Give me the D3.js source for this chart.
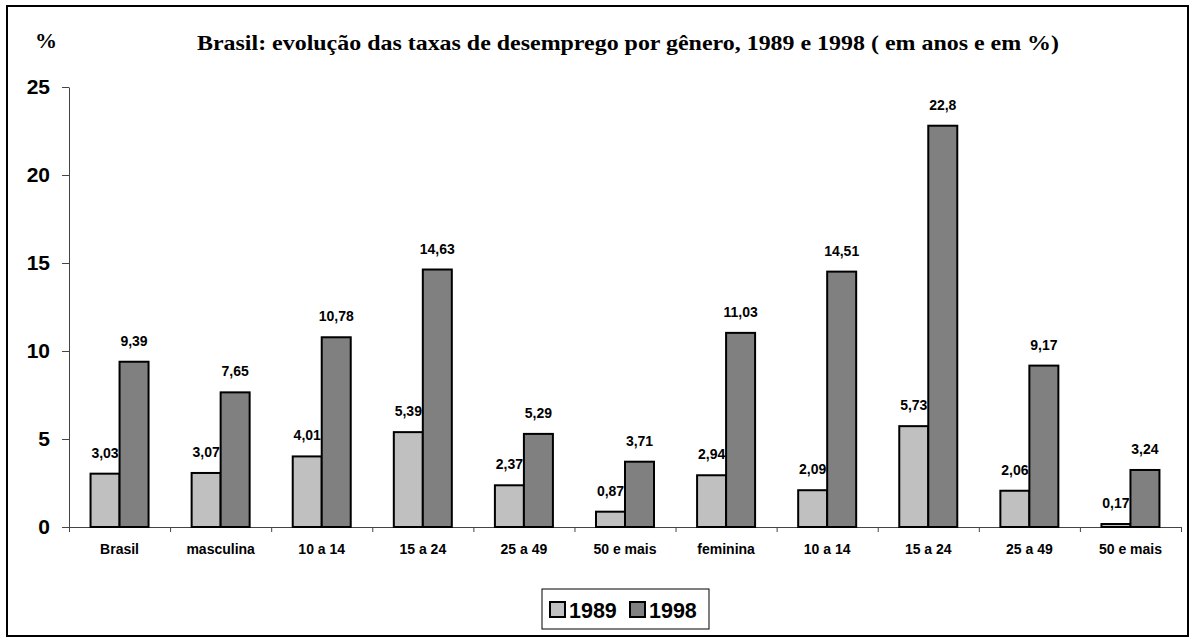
<!DOCTYPE html>
<html>
<head>
<meta charset="utf-8">
<script src="https://cdn.jsdelivr.net/npm/d3@7"></script>
<style>
  body { margin: 0; background: #fff; }
  svg text { font-family: "Liberation Sans", Arial, sans-serif; font-weight: bold; fill: #000; }
  .serif { font-family: "Liberation Serif", "Times New Roman", serif; }
</style>
</head>
<body>
<div id="chart"></div>
<script>
// categorias do eixo x (repetem-se, por isso usamos o índice)
var categories = ["Brasil", "masculina", "10 a 14", "15 a 24", "25 a 49", "50 e mais",
                  "feminina", "10 a 14", "15 a 24", "25 a 49", "50 e mais"];
var values1989 = [3.03, 3.07, 4.01, 5.39, 2.37, 0.87, 2.94, 2.09, 5.73, 2.06, 0.17];
var values1998 = [9.39, 7.65, 10.78, 14.63, 5.29, 3.71, 11.03, 14.51, 22.8, 9.17, 3.24];
var series = ["1989", "1998"];
var seriesColors = ["#c0c0c0", "#808080"];
var yTicks = [0, 5, 10, 15, 20, 25];

var width = 1196, height = 644;
var plotLeft = 69, plotRight = 1181, plotTop = 87, plotBottom = 527;

var svg = d3.select("#chart").append("svg")
    .attr("width", width)
    .attr("height", height);

// moldura
svg.append("rect")
    .attr("x", 7).attr("y", 6)
    .attr("width", 1181).attr("height", 630)
    .attr("fill", "none")
    .attr("stroke", "#000")
    .attr("stroke-width", 2);

var x = d3.scaleBand()
    .domain(d3.range(categories.length))
    .range([plotLeft, plotRight]);

var xSub = d3.scaleBand()
    .domain(series)
    .range([0, 58]);

var y = d3.scaleLinear()
    .domain([0, 25])
    .range([plotBottom, plotTop]);

// eixo y
var yAxis = svg.append("g")
    .attr("transform", "translate(" + plotLeft + ",0)")
    .call(d3.axisLeft(y).tickValues(yTicks).tickSize(7).tickSizeOuter(0).tickPadding(12));
yAxis.selectAll("text").style("font-size", "21px");
yAxis.selectAll("line, path").attr("stroke", "#444");

// eixo x: marcas nas divisões entre categorias
var xIdx = d3.scaleLinear().domain([0, categories.length]).range([plotLeft, plotRight]);
var xAxis = svg.append("g")
    .attr("transform", "translate(0," + plotBottom + ")")
    .call(d3.axisBottom(xIdx).tickValues(d3.range(categories.length + 1))
          .tickSize(5).tickSizeOuter(0).tickFormat(""));
xAxis.selectAll("line, path").attr("stroke", "#444");

svg.append("g").selectAll("text")
    .data(categories)
    .enter().append("text")
    .attr("x", function(d, i) { return x(i) + x.bandwidth() / 2; })
    .attr("y", plotBottom + 27)
    .attr("text-anchor", "middle")
    .style("font-size", "14px")
    .text(function(d) { return d; });

// barras
var rows = [];
for (var i = 0; i < categories.length; i++) {
    rows.push({ i: i, s: "1989", v: values1989[i], c: seriesColors[0] });
    rows.push({ i: i, s: "1998", v: values1998[i], c: seriesColors[1] });
}

var groupOffset = (x.bandwidth() - 58) / 2;

svg.append("g").selectAll("rect")
    .data(rows)
    .enter().append("rect")
    .attr("x", function(d) { return x(d.i) + groupOffset + xSub(d.s); })
    .attr("y", function(d) { return y(d.v); })
    .attr("width", xSub.bandwidth())
    .attr("height", function(d) { return plotBottom - y(d.v); })
    .attr("fill", function(d) { return d.c; })
    .attr("stroke", "#000")
    .attr("stroke-width", 2);

svg.append("g").selectAll("text")
    .data(rows)
    .enter().append("text")
    .attr("x", function(d) { return x(d.i) + groupOffset + xSub(d.s) + xSub.bandwidth() / 2; })
    .attr("y", function(d) { return y(d.v) - 16; })
    .attr("text-anchor", "middle")
    .style("font-size", "14px")
    .text(function(d) { return String(d.v).replace(".", ","); });

// títulos
svg.append("text")
    .attr("class", "serif")
    .attr("x", 35).attr("y", 48)
    .style("font-size", "22px")
    .text("%");

svg.append("text")
    .attr("class", "serif")
    .attr("x", 197).attr("y", 50)
    .attr("textLength", 862)
    .attr("lengthAdjust", "spacingAndGlyphs")
    .style("font-size", "22px")
    .text("Brasil: evolução das taxas de desemprego por gênero, 1989 e 1998 ( em anos e em %)");

// legenda
var legend = svg.append("g").attr("transform", "translate(542,589)");
legend.append("rect")
    .attr("width", 167).attr("height", 40)
    .attr("fill", "#fff").attr("stroke", "#000").attr("stroke-width", 1);

var items = legend.selectAll("g.item")
    .data(series)
    .enter().append("g")
    .attr("transform", function(d, i) { return "translate(" + (8 + i * 80) + ",13)"; });
items.append("rect")
    .attr("width", 15).attr("height", 15)
    .attr("fill", function(d, i) { return seriesColors[i]; })
    .attr("stroke", "#000").attr("stroke-width", 2);
items.append("text")
    .attr("x", 19).attr("y", 16)
    .style("font-size", "21.5px")
    .text(function(d) { return d; });
</script>
</body>
</html>
